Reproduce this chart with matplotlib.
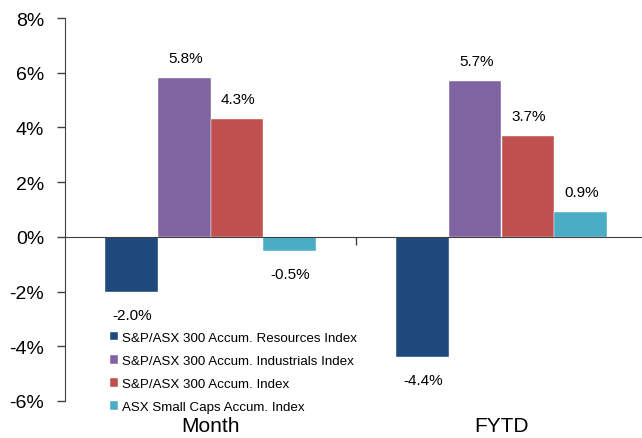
import matplotlib
matplotlib.use("Agg")
import matplotlib.pyplot as plt
import matplotlib.transforms as mtransforms
import numpy as np

categories = ["Month", "FYTD"]
series_names = [
    "S&P/ASX 300 Accum. Resources Index",
    "S&P/ASX 300 Accum. Industrials Index",
    "S&P/ASX 300 Accum. Index",
    "ASX Small Caps Accum. Index",
]
resources = [-2.0, -4.4]
industrials = [5.8, 5.7]
asx300 = [4.3, 3.7]
small_caps = [-0.5, 0.9]
colors = ["#1F497D", "#8064A2", "#C0504D", "#4BACC6"]
yticks = [-6, -4, -2, 0, 2, 4, 6, 8]

plt.rcParams["font.family"] = ["Liberation Sans", "DejaVu Sans"]

fig = plt.figure(figsize=(6.42, 4.39), dpi=100)
ax = fig.add_axes([65 / 642, 1 - 402 / 439, 1 - 65 / 642, (402 - 19) / 439])

x = np.arange(len(categories))
width = 0.181
offsets = np.array([-1.5, -0.5, 0.5, 1.5]) * width
all_series = [resources, industrials, asx300, small_caps]
for vals, off, col, name in zip(all_series, offsets, colors, series_names):
    bars = ax.bar(x + off, vals, width, color=col, label=name,
                  edgecolor="#FFFFFF", linewidth=0.3)
    for rect, v in zip(bars, vals):
        ax.annotate(f"{v:.1f}%",
                    xy=(rect.get_x() + rect.get_width() / 2, v),
                    xytext=(1, 20 if v >= 0 else -23),
                    textcoords="offset pixels", ha="center", va="center",
                    fontsize=11, color="#000000")

ax.set_ylim(-6, 8)
ax.set_xlim(-0.5, 1.5 - 5 / 291)
ax.set_yticks(yticks)
ax.set_yticklabels([f"{t}%" for t in yticks], fontsize=14)
ax.tick_params(axis="y", direction="out", length=6, width=1, color="#404040", pad=9)

for s in ["top", "right"]:
    ax.spines[s].set_visible(False)
ax.spines["left"].set_color("#404040")
ax.spines["bottom"].set_position(("data", 0))
ax.spines["bottom"].set_color("#404040")
ax.spines["bottom"].set_zorder(5)
ax.set_xticks([0.5])
ax.set_xticklabels([""])
ax.tick_params(axis="x", direction="out", length=6, width=1, color="#404040")

trans = mtransforms.blended_transform_factory(ax.transData, ax.transAxes)
for xi, cat in zip(x, categories):
    ax.text(xi, -0.065, cat, transform=trans, ha="center", va="center", fontsize=15)

leg = ax.legend(loc="lower left", bbox_to_anchor=(0.068, -0.045), frameon=False,
                fontsize=9.6, handlelength=0.65, handleheight=0.65,
                handletextpad=0.3, labelspacing=0.82, borderaxespad=0)

fig.savefig("out.png", dpi=100)
